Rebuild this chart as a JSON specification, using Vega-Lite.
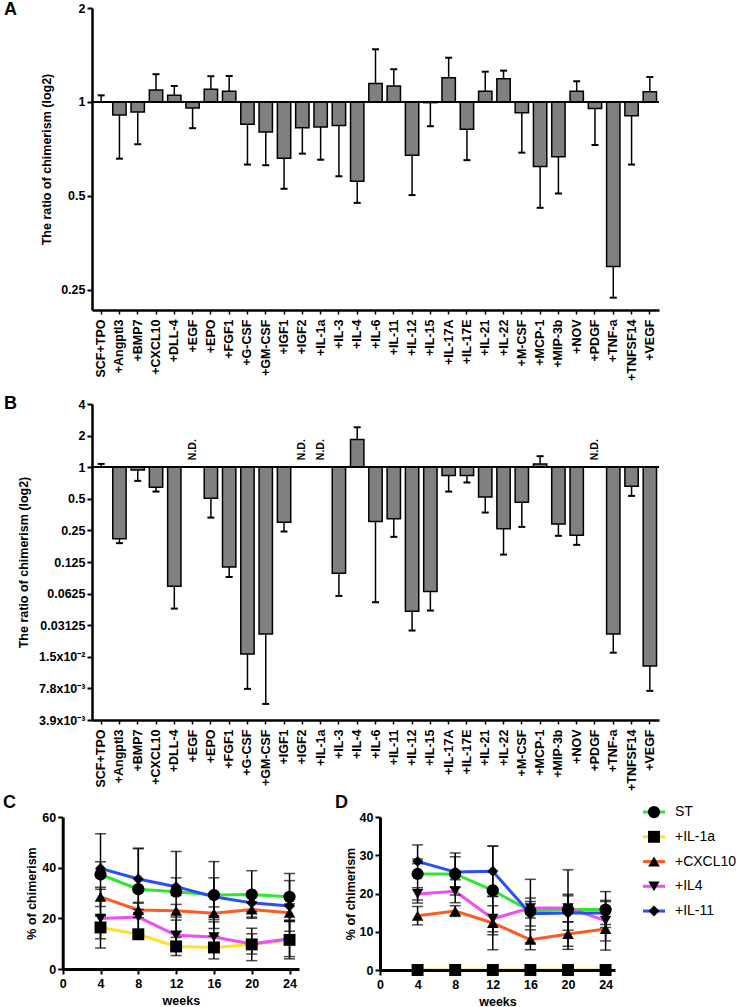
{
  "$schema": "https://vega.github.io/schema/vega-lite/v6.json",
  "padding": {"left": 3, "top": 1, "right": 0, "bottom": 0},
  "config": {
    "font": "Liberation Sans",
    "view": {"stroke": null},
    "axis": {"grid": false, "domainColor": "black", "tickColor": "black", "labelColor": "black", "titleColor": "black",
      "labelFont": "Liberation Sans", "titleFont": "Liberation Sans", "labelFontWeight": "bold", "titleFontWeight": "bold",
      "labelFontSize": 12.5, "titleFontSize": 12.5, "domainWidth": 2.5, "tickWidth": 2, "labelOverlap": false, "labelFlush": false},
    "title": {"font": "Liberation Sans", "fontWeight": "bold", "fontSize": 18, "anchor": "start", "frame": "group", "offset": 0, "baseline": "top", "color": "black"}
  },
  "datasets": {
    "a": [
      {"cond": "SCF+TPO", "v": 1, "err": 1.05},
      {"cond": "+Angptl3", "v": 0.909, "err": 0.658},
      {"cond": "+BMP7", "v": 0.929, "err": 0.732},
      {"cond": "+CXCL10", "v": 1.092, "err": 1.227},
      {"cond": "+DLL-4", "v": 1.05, "err": 1.125},
      {"cond": "+EGF", "v": 0.957, "err": 0.824},
      {"cond": "+EPO", "v": 1.098, "err": 1.209},
      {"cond": "+FGF1", "v": 1.082, "err": 1.211},
      {"cond": "+G-CSF", "v": 0.848, "err": 0.63},
      {"cond": "+GM-CSF", "v": 0.801, "err": 0.627},
      {"cond": "+IGF1", "v": 0.66, "err": 0.527},
      {"cond": "+IGF2", "v": 0.827, "err": 0.683},
      {"cond": "+IL-1a", "v": 0.832, "err": 0.653},
      {"cond": "+IL-3", "v": 0.84, "err": 0.578},
      {"cond": "+IL-4", "v": 0.557, "err": 0.475},
      {"cond": "+IL-6", "v": 1.145, "err": 1.475},
      {"cond": "+IL-11", "v": 1.125, "err": 1.273},
      {"cond": "+IL-12", "v": 0.675, "err": 0.503},
      {"cond": "+IL-15", "v": 0.995, "err": 0.836},
      {"cond": "+IL-17A", "v": 1.196, "err": 1.386},
      {"cond": "+IL-17E", "v": 0.818, "err": 0.651},
      {"cond": "+IL-21", "v": 1.082, "err": 1.25},
      {"cond": "+IL-22", "v": 1.187, "err": 1.26},
      {"cond": "+M-CSF", "v": 0.924, "err": 0.688},
      {"cond": "+MCP-1", "v": 0.621, "err": 0.458},
      {"cond": "+MIP-3b", "v": 0.668, "err": 0.509},
      {"cond": "+NOV", "v": 1.082, "err": 1.165},
      {"cond": "+PDGF", "v": 0.952, "err": 0.728},
      {"cond": "+TNF-a", "v": 0.297, "err": 0.236},
      {"cond": "+TNFSF14", "v": 0.904, "err": 0.63},
      {"cond": "+VEGF", "v": 1.079, "err": 1.202}
    ],
    "b": [
      {"cond": "SCF+TPO", "v": 1, "err": 1.075},
      {"cond": "+Angptl3", "v": 0.208, "err": 0.189},
      {"cond": "+BMP7", "v": 0.943, "err": 0.741},
      {"cond": "+CXCL10", "v": 0.645, "err": 0.586},
      {"cond": "+DLL-4", "v": 0.0735, "err": 0.045},
      {"cond": "+EGF", "nd": "N.D."},
      {"cond": "+EPO", "v": 0.507, "err": 0.331},
      {"cond": "+FGF1", "v": 0.112, "err": 0.09},
      {"cond": "+G-CSF", "v": 0.01664, "err": 0.00773},
      {"cond": "+GM-CSF", "v": 0.0258, "err": 0.00556},
      {"cond": "+IGF1", "v": 0.299, "err": 0.244},
      {"cond": "+IGF2", "nd": "N.D."},
      {"cond": "+IL-1a", "nd": "N.D."},
      {"cond": "+IL-3", "v": 0.0974, "err": 0.0594},
      {"cond": "+IL-4", "v": 1.836, "err": 2.4},
      {"cond": "+IL-6", "v": 0.304, "err": 0.0517},
      {"cond": "+IL-11", "v": 0.322, "err": 0.217},
      {"cond": "+IL-12", "v": 0.0424, "err": 0.0278},
      {"cond": "+IL-15", "v": 0.0655, "err": 0.0431},
      {"cond": "+IL-17A", "v": 0.833, "err": 0.586},
      {"cond": "+IL-17E", "v": 0.833, "err": 0.715},
      {"cond": "+IL-21", "v": 0.521, "err": 0.37},
      {"cond": "+IL-22", "v": 0.259, "err": 0.147},
      {"cond": "+M-CSF", "v": 0.464, "err": 0.27},
      {"cond": "+MCP-1", "v": 1.075, "err": 1.273},
      {"cond": "+MIP-3b", "v": 0.287, "err": 0.222},
      {"cond": "+NOV", "v": 0.225, "err": 0.182},
      {"cond": "+PDGF", "nd": "N.D."},
      {"cond": "+TNF-a", "v": 0.0258, "err": 0.0171},
      {"cond": "+TNFSF14", "v": 0.659, "err": 0.533},
      {"cond": "+VEGF", "v": 0.0128, "err": 0.0074}
    ],
    "c": [
      {"series": "ST", "week": 4, "mean": 37.3, "sd": 16.1},
      {"series": "ST", "week": 8, "mean": 31.5, "sd": 16.2},
      {"series": "ST", "week": 12, "mean": 30.5, "sd": 15.9},
      {"series": "ST", "week": 16, "mean": 29.2, "sd": 13.2},
      {"series": "ST", "week": 20, "mean": 29.4, "sd": 9.4},
      {"series": "ST", "week": 24, "mean": 28.5, "sd": 9.2},
      {"series": "+IL-1a", "week": 4, "mean": 16.4, "sd": 4.5},
      {"series": "+IL-1a", "week": 8, "mean": 13.7, "sd": 1.5},
      {"series": "+IL-1a", "week": 12, "mean": 8.9, "sd": 3.6},
      {"series": "+IL-1a", "week": 16, "mean": 8.5, "sd": 4.5},
      {"series": "+IL-1a", "week": 20, "mean": 9.7, "sd": 6.4},
      {"series": "+IL-1a", "week": 24, "mean": 11.5, "sd": 7.5},
      {"series": "+CXCL10", "week": 4, "mean": 28.5, "sd": 3.8},
      {"series": "+CXCL10", "week": 8, "mean": 23.3, "sd": 3},
      {"series": "+CXCL10", "week": 12, "mean": 23, "sd": 2.5},
      {"series": "+CXCL10", "week": 16, "mean": 22, "sd": 2.5},
      {"series": "+CXCL10", "week": 20, "mean": 23.5, "sd": 3},
      {"series": "+CXCL10", "week": 24, "mean": 22.2, "sd": 3.5},
      {"series": "+IL4", "week": 4, "mean": 19.9, "sd": 11.6},
      {"series": "+IL4", "week": 8, "mean": 20.5, "sd": 5.5},
      {"series": "+IL4", "week": 12, "mean": 13.3, "sd": 6},
      {"series": "+IL4", "week": 16, "mean": 12.6, "sd": 6},
      {"series": "+IL4", "week": 20, "mean": 9.9, "sd": 4},
      {"series": "+IL4", "week": 24, "mean": 11.9, "sd": 7},
      {"series": "+IL-11", "week": 4, "mean": 39.7, "sd": 2.6},
      {"series": "+IL-11", "week": 8, "mean": 35.5, "sd": 12},
      {"series": "+IL-11", "week": 12, "mean": 32.5, "sd": 3.5},
      {"series": "+IL-11", "week": 16, "mean": 28.5, "sd": 7.5},
      {"series": "+IL-11", "week": 20, "mean": 26.1, "sd": 3.5},
      {"series": "+IL-11", "week": 24, "mean": 24.9, "sd": 10}
    ],
    "d": [
      {"series": "ST", "week": 4, "mean": 25.1, "sd": 7.6},
      {"series": "ST", "week": 8, "mean": 25.1, "sd": 5.5},
      {"series": "ST", "week": 12, "mean": 20.8, "sd": 11.6},
      {"series": "ST", "week": 16, "mean": 15.4, "sd": 8.3},
      {"series": "ST", "week": 20, "mean": 15.8, "sd": 10.4},
      {"series": "ST", "week": 24, "mean": 15.8, "sd": 4.7},
      {"series": "+IL-1a", "week": 4, "mean": 0, "sd": 0},
      {"series": "+IL-1a", "week": 8, "mean": 0, "sd": 0},
      {"series": "+IL-1a", "week": 12, "mean": 0, "sd": 0},
      {"series": "+IL-1a", "week": 16, "mean": 0, "sd": 0},
      {"series": "+IL-1a", "week": 20, "mean": 0, "sd": 0},
      {"series": "+IL-1a", "week": 24, "mean": 0, "sd": 0},
      {"series": "+CXCL10", "week": 4, "mean": 14.2, "sd": 2.4},
      {"series": "+CXCL10", "week": 8, "mean": 15.4, "sd": 1.4},
      {"series": "+CXCL10", "week": 12, "mean": 12.3, "sd": 7},
      {"series": "+CXCL10", "week": 16, "mean": 7.9, "sd": 2.6},
      {"series": "+CXCL10", "week": 20, "mean": 9.4, "sd": 3.2},
      {"series": "+CXCL10", "week": 24, "mean": 10.7, "sd": 5.5},
      {"series": "+IL4", "week": 4, "mean": 19.9, "sd": 1.6},
      {"series": "+IL4", "week": 8, "mean": 20.6, "sd": 3},
      {"series": "+IL4", "week": 12, "mean": 13.4, "sd": 3.4},
      {"series": "+IL4", "week": 16, "mean": 16.2, "sd": 2.6},
      {"series": "+IL4", "week": 20, "mean": 16.2, "sd": 3.6},
      {"series": "+IL4", "week": 24, "mean": 12.9, "sd": 5.3},
      {"series": "+IL-11", "week": 4, "mean": 28.4, "sd": 0.6},
      {"series": "+IL-11", "week": 8, "mean": 25.6, "sd": 4},
      {"series": "+IL-11", "week": 12, "mean": 25.8, "sd": 6.6},
      {"series": "+IL-11", "week": 16, "mean": 14.7, "sd": 3.2},
      {"series": "+IL-11", "week": 20, "mean": 14.9, "sd": 4.5},
      {"series": "+IL-11", "week": 24, "mean": 14.9, "sd": 3}
    ],
    "leg": [
      {"series": "ST", "order": 0},
      {"series": "+IL-1a", "order": 1},
      {"series": "+CXCL10", "order": 2},
      {"series": "+IL4", "order": 3},
      {"series": "+IL-11", "order": 4}
    ]
  },
  "spacing": 3,
  "vconcat": [
    {
      "spacing": 14,
      "vconcat": [
        {
          "width": 567, "height": 302,
          "title": {"text": "A", "dx": -88, "dy": 21},
          "data": {"name": "a"},
          "layer": [
            {
              "mark": {"type": "bar", "fill": "#808080", "stroke": "black", "strokeWidth": 1.5},
              "encoding": {
                "x": {"field": "cond", "type": "nominal", "sort": null,
                  "scale": {"domain": ["SCF+TPO","+Angptl3","+BMP7","+CXCL10","+DLL-4","+EGF","+EPO","+FGF1","+G-CSF","+GM-CSF","+IGF1","+IGF2","+IL-1a","+IL-3","+IL-4","+IL-6","+IL-11","+IL-12","+IL-15","+IL-17A","+IL-17E","+IL-21","+IL-22","+M-CSF","+MCP-1","+MIP-3b","+NOV","+PDGF","+TNF-a","+TNFSF14","+VEGF"], "paddingInner": 0.27, "paddingOuter": 0.135},
                  "axis": {"title": null, "labelAngle": -90, "tickSize": 4, "labelPadding": 5, "tickWidth": 1.5}},
                "y": {"field": "v", "type": "quantitative",
                  "scale": {"type": "log", "base": 2, "domain": [0.2155, 2], "nice": false},
                  "axis": {"title": "The ratio of chimerism (log2)", "values": [0.25, 0.5, 1, 2], "labelExpr": "'' + datum.value", "tickSize": 5, "labelPadding": 2, "titlePadding": 7}},
                "y2": {"datum": 1}
              }
            },
            {
              "mark": {"type": "rule", "color": "black", "strokeWidth": 1.5},
              "encoding": {
                "x": {"field": "cond", "type": "nominal", "sort": null},
                "y": {"field": "v", "type": "quantitative"},
                "y2": {"field": "err"}
              }
            },
            {
              "mark": {"type": "tick", "color": "black", "thickness": 2, "size": 7, "opacity": 1},
              "encoding": {
                "x": {"field": "cond", "type": "nominal", "sort": null},
                "y": {"field": "err", "type": "quantitative"}
              }
            },
            {
              "mark": {"type": "rule", "color": "black", "strokeWidth": 1.5},
              "encoding": {"y": {"datum": 1}}
            }
          ]
        },
        {
          "width": 567, "height": 316,
          "title": {"text": "B", "dx": -88, "dy": 19},
          "data": {"name": "b"},
          "layer": [
            {
              "transform": [{"filter": "isValid(datum.v)"}],
              "mark": {"type": "bar", "fill": "#808080", "stroke": "black", "strokeWidth": 1.5},
              "encoding": {
                "x": {"field": "cond", "type": "nominal", "sort": null,
                  "scale": {"domain": ["SCF+TPO","+Angptl3","+BMP7","+CXCL10","+DLL-4","+EGF","+EPO","+FGF1","+G-CSF","+GM-CSF","+IGF1","+IGF2","+IL-1a","+IL-3","+IL-4","+IL-6","+IL-11","+IL-12","+IL-15","+IL-17A","+IL-17E","+IL-21","+IL-22","+M-CSF","+MCP-1","+MIP-3b","+NOV","+PDGF","+TNF-a","+TNFSF14","+VEGF"], "paddingInner": 0.27, "paddingOuter": 0.135},
                  "axis": {"title": null, "labelAngle": -90, "tickSize": 4, "labelPadding": 5, "tickWidth": 1.5}},
                "y": {"field": "v", "type": "quantitative",
                  "scale": {"type": "log", "base": 2, "domain": [0.00390625, 4], "nice": false},
                  "axis": {"title": "The ratio of chimerism (log2)", "values": [4, 2, 1, 0.5, 0.25, 0.125, 0.0625, 0.03125, 0.015625, 0.0078125, 0.00390625],
                    "labelExpr": "datum.value > 0.02 ? '' + datum.value : (datum.value > 0.01 ? '1.5x10⁻²' : (datum.value > 0.005 ? '7.8x10⁻³' : '3.9x10⁻³'))",
                    "tickSize": 5, "labelPadding": 2, "titlePadding": 8}},
                "y2": {"datum": 1}
              }
            },
            {
              "transform": [{"filter": "isValid(datum.v)"}],
              "mark": {"type": "rule", "color": "black", "strokeWidth": 1.5},
              "encoding": {
                "x": {"field": "cond", "type": "nominal", "sort": null},
                "y": {"field": "v", "type": "quantitative"},
                "y2": {"field": "err"}
              }
            },
            {
              "transform": [{"filter": "isValid(datum.v)"}],
              "mark": {"type": "tick", "color": "black", "thickness": 2, "size": 7, "opacity": 1},
              "encoding": {
                "x": {"field": "cond", "type": "nominal", "sort": null},
                "y": {"field": "err", "type": "quantitative"}
              }
            },
            {
              "transform": [{"filter": "isValid(datum.nd)"}],
              "mark": {"type": "text", "angle": 270, "align": "left", "baseline": "middle", "fontSize": 10.5, "fontWeight": "bold", "color": "black", "font": "Liberation Sans"},
              "encoding": {
                "x": {"field": "cond", "type": "nominal", "sort": null},
                "y": {"datum": 1.166},
                "text": {"field": "nd"}
              }
            },
            {
              "mark": {"type": "rule", "color": "black", "strokeWidth": 1.5},
              "encoding": {"y": {"datum": 1}}
            }
          ]
        }
      ]
    },
    {
      "spacing": 6,
      "hconcat": [
        {
          "width": 207, "height": 152,
          "title": {"text": "C", "dx": -89, "dy": 5},
          "data": {"name": "c"},
          "encoding": {
            "x": {"field": "week", "type": "quantitative",
              "scale": {"domain": [0, 25], "range": [-29.3, 207], "nice": false, "zero": false},
              "axis": {"values": [0, 4, 8, 12, 16, 20, 24], "title": "weeks", "tickSize": 5, "labelPadding": 3, "titlePadding": 5, "domainWidth": 3}},
            "y": {"field": "mean", "type": "quantitative",
              "scale": {"domain": [0, 60], "nice": false},
              "axis": {"values": [0, 20, 40, 60], "title": "% of chimerism", "offset": 29.3, "tickSize": 5, "labelPadding": 2, "titlePadding": 3, "domainWidth": 3}}
          },
          "layer": [
            {
              "mark": {"type": "line", "strokeWidth": 3},
              "encoding": {
                "color": {"field": "series", "type": "nominal", "legend": null,
                  "scale": {"domain": ["ST", "+IL-1a", "+CXCL10", "+IL4", "+IL-11"], "range": ["#2ee82e", "#ffe02e", "#ff5a1f", "#f04ef0", "#2a4bff"]}}
              }
            },
            {
              "mark": {"type": "errorbar", "color": "black", "thickness": 1.5, "ticks": {"size": 11, "thickness": 1.5}},
              "encoding": {"yError": {"field": "sd"}}
            },
            {
              "mark": {"type": "point", "filled": true, "color": "black", "opacity": 1},
              "encoding": {
                "shape": {"field": "series", "type": "nominal", "legend": null,
                  "scale": {"domain": ["ST", "+IL-1a", "+CXCL10", "+IL4", "+IL-11"], "range": ["circle", "square", "triangle-up", "triangle-down", "diamond"]}},
                "size": {"field": "series", "type": "nominal", "legend": null,
                  "scale": {"domain": ["ST", "+IL-1a", "+CXCL10", "+IL4", "+IL-11"], "range": [150, 120, 100, 45, 35]}}
              }
            }
          ]
        },
        {
          "spacing": 26,
          "hconcat": [
            {
              "width": 235, "height": 153,
              "title": {"text": "D", "dx": -45, "dy": 5},
              "data": {"name": "d"},
              "encoding": {
                "x": {"field": "week", "type": "quantitative",
                  "scale": {"domain": [0, 25], "nice": false},
                  "axis": {"values": [0, 4, 8, 12, 16, 20, 24], "title": "weeks", "tickSize": 5, "labelPadding": 3, "titlePadding": 5, "domainWidth": 3, "zindex": 1}},
                "y": {"field": "mean", "type": "quantitative",
                  "scale": {"domain": [0, 40], "nice": false},
                  "axis": {"values": [0, 10, 20, 30, 40], "title": "% of chimerism", "tickSize": 5, "labelPadding": 2, "titlePadding": 2, "domainWidth": 3}}
              },
              "layer": [
                {
                  "mark": {"type": "line", "strokeWidth": 3},
                  "encoding": {
                    "color": {"field": "series", "type": "nominal", "legend": null,
                      "scale": {"domain": ["ST", "+IL-1a", "+CXCL10", "+IL4", "+IL-11"], "range": ["#2ee82e", "#ffe02e", "#ff5a1f", "#f04ef0", "#2a4bff"]}}
                  }
                },
                {
                  "mark": {"type": "errorbar", "color": "black", "thickness": 1.5, "ticks": {"size": 11, "thickness": 1.5}},
                  "encoding": {"yError": {"field": "sd"}}
                },
                {
                  "mark": {"type": "point", "filled": true, "color": "black", "opacity": 1},
                  "encoding": {
                    "shape": {"field": "series", "type": "nominal", "legend": null,
                      "scale": {"domain": ["ST", "+IL-1a", "+CXCL10", "+IL4", "+IL-11"], "range": ["circle", "square", "triangle-up", "triangle-down", "diamond"]}},
                    "size": {"field": "series", "type": "nominal", "legend": null,
                      "scale": {"domain": ["ST", "+IL-1a", "+CXCL10", "+IL4", "+IL-11"], "range": [150, 120, 100, 45, 35]}}
                  }
                }
              ]
            },
            {
              "width": 22, "height": 99,
              "data": {"name": "leg"},
              "encoding": {
                "y": {"field": "order", "type": "quantitative", "scale": {"domain": [0.2, 4.2], "reverse": true, "nice": false, "zero": false}, "axis": null}
              },
              "layer": [
                {
                  "mark": {"type": "rule", "strokeWidth": 3},
                  "encoding": {
                    "x": {"datum": 0, "type": "quantitative", "scale": {"domain": [0, 1], "nice": false}, "axis": null},
                    "x2": {"datum": 1},
                    "color": {"field": "series", "type": "nominal", "legend": null,
                      "scale": {"domain": ["ST", "+IL-1a", "+CXCL10", "+IL4", "+IL-11"], "range": ["#2ee82e", "#ffe02e", "#ff5a1f", "#f04ef0", "#2a4bff"]}}
                  }
                },
                {
                  "mark": {"type": "point", "filled": true, "color": "black", "opacity": 1},
                  "encoding": {
                    "x": {"datum": 0.5, "type": "quantitative"},
                    "shape": {"field": "series", "type": "nominal", "legend": null,
                      "scale": {"domain": ["ST", "+IL-1a", "+CXCL10", "+IL4", "+IL-11"], "range": ["circle", "square", "triangle-up", "triangle-down", "diamond"]}},
                    "size": {"field": "series", "type": "nominal", "legend": null,
                      "scale": {"domain": ["ST", "+IL-1a", "+CXCL10", "+IL4", "+IL-11"], "range": [150, 120, 100, 45, 35]}}
                  }
                },
                {
                  "mark": {"type": "text", "align": "left", "baseline": "middle", "dx": 10, "fontSize": 14, "font": "Liberation Sans", "color": "black"},
                  "encoding": {
                    "x": {"datum": 1, "type": "quantitative"},
                    "text": {"field": "series"}
                  }
                }
              ]
            }
          ]
        }
      ]
    }
  ]
}
